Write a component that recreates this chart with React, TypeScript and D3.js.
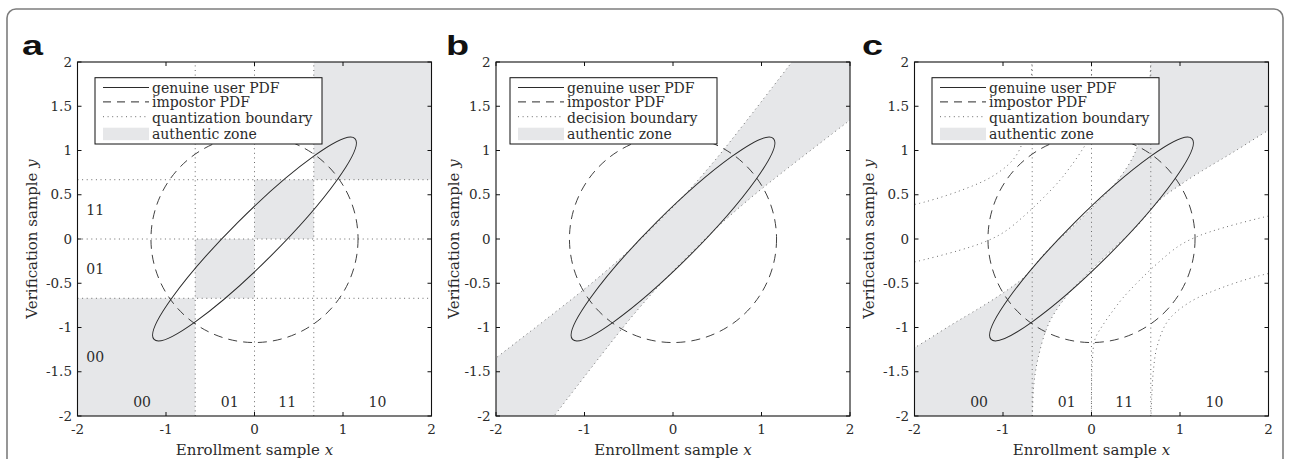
import React from 'react';
import * as d3 from 'd3';

// axis ticks
const xTicks = [-2, -1, 0, 1, 2];
const yTicks = [-2, -1.5, -1, -0.5, 0, 0.5, 1, 1.5, 2];

// quantizer: interval edges, gray codes and where their labels sit
const binEdges = [-2, -0.67, 0, 0.67, 2];
const codes = ['00', '01', '11', '10'];
const codeX = [-1.27, -0.28, 0.37, 1.39];
const codeY = [-1.33, -0.33, 0.33];   // row "10" is hidden under the legend

// genuine user PDF contour (ellipse at 45 deg) and impostor PDF contour (circle)
const genuineMajor = 1.605;
const genuineMinor = 0.266;
const impostorRadius = 1.17;

// panel b: decision boundary (two branches)
const decisionUpper = [[-2.19, -1.49], [-1.71, -1.12], [-1.31, -0.81], [-0.92, -0.5], [-0.54, -0.17], [-0.18, 0.18], [0.17, 0.54], [0.5, 0.92], [0.81, 1.31], [1.12, 1.71], [1.49, 2.19]];
const decisionLower = [[-1.49, -2.19], [-1.12, -1.71], [-0.81, -1.31], [-0.5, -0.92], [-0.17, -0.54], [0.18, -0.18], [0.54, 0.17], [0.92, 0.5], [1.31, 0.81], [1.71, 1.12], [2.19, 1.49]];

// panel c: curved quantization boundaries
const zoneUpperC = [[-2.1, -1.29], [-2, -1.23], [-1.6, -0.98], [-1.25, -0.77], [-1, -0.61], [-0.76, -0.43], [-0.5, -0.13], [-0.2, 0.15], [0.05, 0.4], [0.27, 0.63], [0.48, 0.95], [0.6, 1.33], [0.65, 1.63], [0.665, 1.9], [0.67, 2.1]];
const zoneLowerC = [[2.1, 1.29], [2, 1.23], [1.6, 0.98], [1.25, 0.77], [1, 0.61], [0.76, 0.43], [0.5, 0.13], [0.2, -0.15], [-0.05, -0.4], [-0.27, -0.63], [-0.48, -0.95], [-0.6, -1.33], [-0.65, -1.63], [-0.665, -1.9], [-0.67, -2.1]];
const midUpperC = [[-2.1, -0.28], [-2, -0.26], [-1.5, -0.13], [-1.2, -0.03], [-0.985, 0.08], [-0.74, 0.28], [-0.55, 0.46], [-0.36, 0.66], [-0.25, 0.8], [-0.13, 0.97], [-0.04, 1.13], [-0.01, 1.37], [0, 1.7], [0, 2.1]];
const midLowerC = [[2.1, 0.28], [2, 0.26], [1.5, 0.13], [1.2, 0.03], [0.985, -0.08], [0.74, -0.28], [0.55, -0.46], [0.36, -0.66], [0.25, -0.8], [0.13, -0.97], [0.04, -1.13], [0.01, -1.37], [0, -1.7], [0, -2.1]];
const outerUpperC = [[-2.1, 0.38], [-2, 0.39], [-1.5, 0.54], [-1.1, 0.72], [-0.86, 0.93], [-0.74, 1.22], [-0.7, 1.48], [-0.68, 1.8], [-0.67, 2.1]];
const outerLowerC = [[2.1, -0.38], [2, -0.39], [1.5, -0.54], [1.1, -0.72], [0.86, -0.93], [0.74, -1.22], [0.7, -1.48], [0.68, -1.8], [0.67, -2.1]];

const legendLabelsQ = ['genuine user PDF', 'impostor PDF', 'quantization boundary', 'authentic zone'];
const legendLabelsD = ['genuine user PDF', 'impostor PDF', 'decision boundary', 'authentic zone'];

const TOP = 62;
const SIZE = 354;
const SERIF = '"DejaVu Serif", serif';
const ZONE = '#e6e7e9';
const INK = '#2b2b2b';
const DOT = '#6a6a6a';

const panels = [
  { id: 'a', left: 77.5, letterX: 22, yLabelX: 37, legendDx: 17.5, legendW: 227, labels: legendLabelsQ },
  { id: 'b', left: 496, letterX: 446, yLabelX: 459, legendDx: 14, legendW: 207, labels: legendLabelsD },
  { id: 'c', left: 914.5, letterX: 862, yLabelX: 874, legendDx: 17.5, legendW: 227, labels: legendLabelsQ },
];

const dotted = { stroke: DOT, strokeWidth: 1, strokeDasharray: '1 3.6', fill: 'none' };

function Panel({ p }) {
  const x = d3.scaleLinear().domain([-2, 2]).range([p.left, p.left + SIZE]);
  const y = d3.scaleLinear().domain([-2, 2]).range([TOP + SIZE, TOP]);
  const line = d3.line().x(d => x(d[0])).y(d => y(d[1])).curve(d3.curveCatmullRom.alpha(0.5));
  const clip = `url(#clip-${p.id})`;
  const cx = x(0), cy = y(0);
  const inner = binEdges.slice(1, -1);

  let zone = null;
  let bounds = null;
  if (p.id === 'a') {
    zone = codes.map((c, i) => (
      <rect key={c} x={x(binEdges[i])} y={y(binEdges[i + 1])}
        width={x(binEdges[i + 1]) - x(binEdges[i])} height={y(binEdges[i]) - y(binEdges[i + 1])} fill={ZONE} />
    ));
    bounds = inner.map(t => (
      <g key={t}>
        <line x1={x(t)} x2={x(t)} y1={y(-2)} y2={y(2)} {...dotted} />
        <line x1={x(-2)} x2={x(2)} y1={y(t)} y2={y(t)} {...dotted} />
      </g>
    ));
  } else if (p.id === 'b') {
    const d = `${line(decisionUpper)}L${x(2.2)},${y(2.2)}${line(decisionLower.slice().reverse()).replace(/^M/, 'L')}L${x(-2.2)},${y(-2.2)}Z`;
    zone = <path d={d} fill={ZONE} />;
    bounds = [decisionUpper, decisionLower].map((c, i) => <path key={i} d={line(c)} {...dotted} />);
  } else {
    const d = `${line(zoneUpperC)}L${x(2.2)},${y(2.2)}${line(zoneLowerC).replace(/^M/, 'L')}L${x(-2.2)},${y(-2.2)}Z`;
    zone = <path d={d} fill={ZONE} />;
    bounds = (
      <g>
        {inner.map(t => <line key={t} x1={x(t)} x2={x(t)} y1={y(-2)} y2={y(2)} {...dotted} />)}
        {[zoneUpperC, zoneLowerC, midUpperC, midLowerC, outerUpperC, outerLowerC].map((c, i) => (
          <path key={i} d={line(c)} {...dotted} />
        ))}
      </g>
    );
  }

  const lx = p.left + p.legendDx;
  const ly = 77.7;

  return (
    <g>
      <defs>
        <clipPath id={`clip-${p.id}`}>
          <rect x={p.left} y={TOP} width={SIZE} height={SIZE} />
        </clipPath>
      </defs>
      <g clipPath={clip}>
        {zone}
        {bounds}
        <circle cx={cx} cy={cy} r={x(impostorRadius) - cx} fill="none" stroke={INK} strokeWidth={0.9} strokeDasharray="9 6" />
        <ellipse cx={cx} cy={cy} rx={x(genuineMajor) - cx} ry={x(genuineMinor) - cx}
          transform={`rotate(-45 ${cx} ${cy})`} fill="none" stroke={INK} strokeWidth={1} />
      </g>

      {p.id !== 'b' && codes.map((c, i) => (
        <text key={'b' + c} x={x(codeX[i])} y={y(-1.9)} textAnchor="middle" fontFamily={SERIF} fontSize={14} fill={INK}>{c}</text>
      ))}
      {p.id === 'a' && codeY.map((v, i) => (
        <text key={'l' + i} x={x(-1.8)} y={y(v - 0.06)} textAnchor="middle" fontFamily={SERIF} fontSize={14} fill={INK}>{codes[i]}</text>
      ))}

      {/* axes box and inward ticks */}
      <rect x={p.left} y={TOP} width={SIZE} height={SIZE} fill="none" stroke="#111" strokeWidth={1.1} />
      {xTicks.map(t => (
        <g key={'x' + t}>
          <line x1={x(t)} x2={x(t)} y1={y(-2)} y2={y(-2) - 4} stroke="#111" />
          <line x1={x(t)} x2={x(t)} y1={y(2)} y2={y(2) + 4} stroke="#111" />
          <text x={x(t)} y={434} textAnchor="middle" fontFamily={SERIF} fontSize={13.5} fill={INK}>{String(t)}</text>
        </g>
      ))}
      {yTicks.map(t => (
        <g key={'y' + t}>
          <line x1={x(-2)} x2={x(-2) + 4} y1={y(t)} y2={y(t)} stroke="#111" />
          <line x1={x(2)} x2={x(2) - 4} y1={y(t)} y2={y(t)} stroke="#111" />
          <text x={p.left - 5.5} y={y(t) + 4.7} textAnchor="end" fontFamily={SERIF} fontSize={13.5} fill={INK}>{String(t)}</text>
        </g>
      ))}
      <text x={p.left + SIZE / 2} y={454.5} textAnchor="middle" fontFamily={SERIF} fontSize={15} fill={INK}>
        Enrollment sample <tspan fontStyle="italic">x</tspan>
      </text>
      <text transform={`translate(${p.yLabelX},${TOP + SIZE / 2}) rotate(-90)`} textAnchor="middle" fontFamily={SERIF} fontSize={15} fill={INK}>
        Verification sample <tspan fontStyle="italic">y</tspan>
      </text>

      {/* legend */}
      <rect x={lx} y={ly} width={p.legendW} height={66.3} fill="#fff" stroke="#111" strokeWidth={1} />
      <line x1={lx + 8} x2={lx + 54} y1={ly + 9.8} y2={ly + 9.8} stroke={INK} strokeWidth={1} />
      <line x1={lx + 8} x2={lx + 54} y1={ly + 24.2} y2={ly + 24.2} stroke={INK} strokeWidth={1} strokeDasharray="8 6" />
      <line x1={lx + 8} x2={lx + 54} y1={ly + 39} y2={ly + 39} {...dotted} />
      <rect x={lx + 8} y={ly + 50} width={46} height={12.5} fill={ZONE} />
      {p.labels.map((s, i) => (
        <text key={s} x={lx + 57} y={ly + [14.8, 29.6, 45.6, 61.5][i]} fontFamily={SERIF} fontSize={14} fill={INK}>{s}</text>
      ))}

      <text x={0} y={0} transform={`translate(${p.letterX},55) scale(1.35,1)`} fontFamily='"Liberation Sans", Arial, sans-serif'
        fontWeight="bold" fontSize={28} fill="#111">{p.id}</text>
    </g>
  );
}

export default function App() {
  return (
    <svg width={1290} height={459} style={{ position: 'absolute', left: 0, top: 0, background: '#fff' }}>
      <rect x={7} y={9} width={1276} height={520} rx={9} fill="none" stroke="#7d7d7d" strokeWidth={1.6} />
      {panels.map(p => <Panel key={p.id} p={p} />)}
    </svg>
  );
}
